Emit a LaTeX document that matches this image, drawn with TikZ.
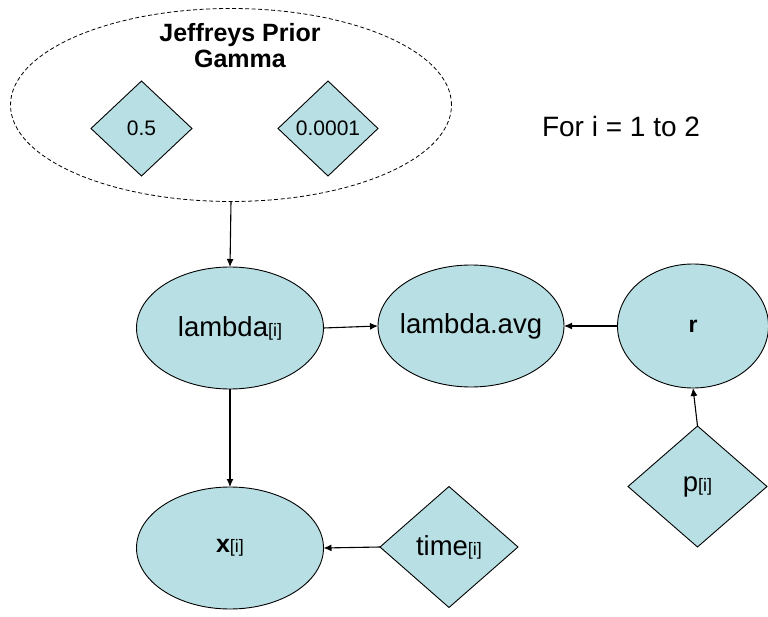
\documentclass[tikz,border=0pt]{standalone}
\usepackage{fontspec}
\setmainfont{Liberation Sans}
\usetikzlibrary{shapes.geometric,arrows.meta}
\definecolor{nodefill}{RGB}{184,223,227}
\newcommand{\sub}[1]{{\fontsize{18}{18}\selectfont #1}}
\tikzset{
  every node/.style={inner sep=0pt, outer sep=0pt},
  stoch/.style={ellipse, draw=black, line width=0.9pt, fill=nodefill, inner xsep=-25pt, font=\fontsize{27.5}{30}\selectfont},
  const/.style={diamond, draw=black, line width=0.9pt, fill=nodefill, font=\fontsize{27.5}{30}\selectfont},
  conn/.style={line width=1.1pt, -{Latex[length=8pt,width=7pt]}},
}
\begin{document}
\begin{tikzpicture}[x=1pt,y=-1pt]
\useasboundingbox (0,0) rectangle (768,617);
% prior group
\node[ellipse, draw=black, dash pattern=on 4pt off 2.5pt, line width=0.8pt, minimum width=441pt, minimum height=193pt] (prior) at (231,105) {};
\node[font=\bfseries\fontsize{25}{26}\selectfont, align=center] (title) at (240,46) {Jeffreys Prior\\Gamma};
\node[const, minimum width=101pt, minimum height=95pt, font=\fontsize{21}{22}\selectfont] (a) at (141.5,128.5) {0.5};
\node[const, minimum width=100pt, minimum height=95pt, font=\fontsize{21}{22}\selectfont] (b) at (328,128.5) {0.0001};
\node[font=\fontsize{28}{30}\selectfont] (loop) at (621,126) {For i = 1 to 2};
% main nodes
\node[stoch, minimum width=187pt, minimum height=122pt] (lambda) at (230,328) {lambda\sub{[i]}};
\node[stoch, minimum width=186pt, minimum height=122pt] (avg) at (471,326) {lambda.avg};
\node[stoch, minimum width=151pt, minimum height=124pt, font=\bfseries\fontsize{23}{24}\selectfont] (r) at (693,326) {r};
\node[const, minimum width=139pt, minimum height=121pt] (p) at (697.5,486.5) {p\sub{[i]}};
\node[stoch, minimum width=187pt, minimum height=122pt] (x) at (230,548) {\textbf{\fontsize{25}{26}\selectfont x}\sub{[i]}};
\node[const, minimum width=138pt, minimum height=121pt] (time) at (449,547) {time\sub{[i]}};
% connectors
\draw[conn] (prior.south) -- (lambda.north);
\draw[conn] (lambda.east) -- (avg.west);
\draw[conn] (r.west) -- (avg.east);
\draw[conn] (p.north) -- (r.south);
\draw[conn] (lambda.south) -- (x.north);
\draw[conn] (time.west) -- (x.east);
\end{tikzpicture}
\end{document}
